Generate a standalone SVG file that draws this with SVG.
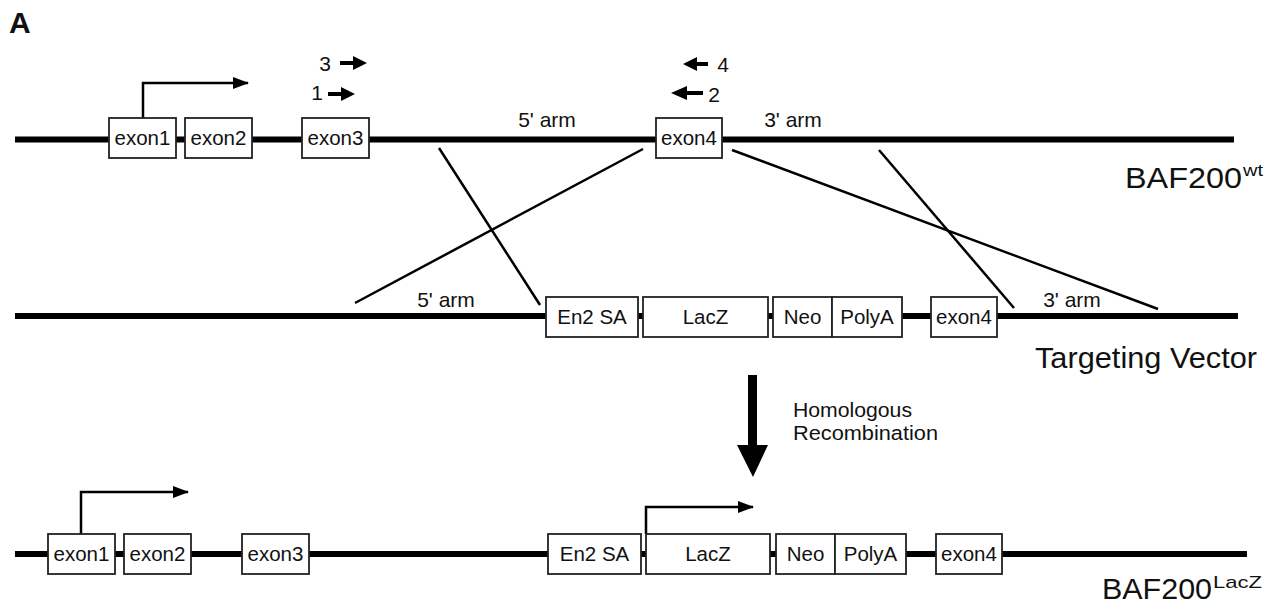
<svg xmlns="http://www.w3.org/2000/svg" width="1279" height="611" viewBox="0 0 1279 611">
<style>
text{font-family:"Liberation Sans",Arial,sans-serif;fill:#111}
.dna{stroke:#000;stroke-width:6;fill:none}
.box rect{fill:#fff;stroke:#222;stroke-width:1.8}
.box text{font-size:20.5px;text-anchor:middle}
.lbl{font-size:21px;text-anchor:middle}
.cross{stroke:#000;stroke-width:2.5;fill:none}
.tss{stroke:#000;stroke-width:2.5;fill:none}
.big{font-size:30px}
</style>
<defs>
<marker id="tip" markerWidth="16" markerHeight="12" refX="15" refY="6" orient="auto" markerUnits="userSpaceOnUse">
<path d="M0,0 L16,6 L0,12 Z" fill="#000"/>
</marker>
</defs>
<text x="9" y="33" font-size="30" font-weight="bold">A</text>

<g id="lines">
<line class="dna" x1="15" y1="139.5" x2="1234" y2="139.5"/>
<line class="dna" x1="15" y1="316" x2="1238" y2="316"/>
<line class="dna" x1="15" y1="554" x2="1247" y2="554"/>
</g>

<g id="connectors">
<line class="cross" x1="439" y1="148" x2="540" y2="305"/>
<line class="cross" x1="643" y1="149" x2="355" y2="303"/>
<line class="cross" x1="732" y1="150" x2="1158" y2="309"/>
<line class="cross" x1="879" y1="150" x2="1014" y2="308"/>
<path class="tss" d="M143,118 V83 H248" marker-end="url(#tip)"/>
<path class="tss" d="M81,534 V492 H188" marker-end="url(#tip)"/>
<path class="tss" d="M646,534 V507 H753" marker-end="url(#tip)"/>
<path d="M340,61 H353 V56 L367,63 L353,70 V65 H340 Z" fill="#000"/>
<path d="M328,92 H341 V87 L355,94 L341,101 V96 H328 Z" fill="#000"/>
<path d="M708,62 H697 V57 L683,64 L697,71 V66 H708 Z" fill="#000"/>
<path d="M703,91 H687 V86 L671,93 L687,100 V95 H703 Z" fill="#000"/>
<path d="M748,375 H757 V445 H768 L753,477 L737,445 H748 Z" fill="#000"/>
</g>

<g id="wt-labels">
<text class="lbl" x="325" y="71">3</text>
<text class="lbl" x="317" y="100">1</text>
<text class="lbl" x="723" y="72">4</text>
<text class="lbl" x="714" y="102">2</text>
<text class="lbl" x="547" y="127">5' arm</text>
<text class="lbl" x="793" y="127">3' arm</text>
<text class="lbl" x="446" y="307">5' arm</text>
<text class="lbl" x="1072" y="307">3' arm</text>
</g>

<g id="wt-exon1" class="box"><rect x="109" y="118" width="67" height="40"/><text x="142.5" y="145">exon1</text></g>
<g id="wt-exon2" class="box"><rect x="185" y="118" width="67" height="40"/><text x="218.5" y="145">exon2</text></g>
<g id="wt-exon3" class="box"><rect x="302" y="118" width="67" height="40"/><text x="335.5" y="145">exon3</text></g>
<g id="wt-exon4" class="box"><rect x="656" y="118" width="66" height="40"/><text x="689" y="145">exon4</text></g>
<text id="label-wt" class="big" x="1125" y="188"><tspan textLength="117" lengthAdjust="spacingAndGlyphs">BAF200</tspan><tspan font-size="17" dy="-12" x="1243" textLength="20" lengthAdjust="spacingAndGlyphs">wt</tspan></text>

<g id="tv-en2sa" class="box"><rect x="546" y="297" width="92" height="40"/><text x="592" y="324">En2 SA</text></g>
<g id="tv-lacz" class="box"><rect x="643" y="297" width="125" height="40"/><text x="705.5" y="324">LacZ</text></g>
<g id="tv-neo" class="box"><rect x="773" y="297" width="59" height="40"/><text x="802.5" y="324">Neo</text></g>
<g id="tv-polya" class="box"><rect x="832" y="297" width="70" height="40"/><text x="867" y="324">PolyA</text></g>
<g id="tv-exon4" class="box"><rect x="931" y="297" width="66" height="40"/><text x="964" y="324">exon4</text></g>
<text id="label-tv" class="big" x="1035" y="368" textLength="222" lengthAdjust="spacingAndGlyphs">Targeting Vector</text>

<g id="hr-label">
<text x="793" y="417" font-size="20.5" textLength="119" lengthAdjust="spacingAndGlyphs">Homologous</text>
<text x="793" y="440" font-size="20.5" textLength="145" lengthAdjust="spacingAndGlyphs">Recombination</text>
</g>

<g id="ko-exon1" class="box"><rect x="48" y="534" width="67" height="40"/><text x="81.5" y="561">exon1</text></g>
<g id="ko-exon2" class="box"><rect x="124" y="534" width="67" height="40"/><text x="157.5" y="561">exon2</text></g>
<g id="ko-exon3" class="box"><rect x="242" y="534" width="67" height="40"/><text x="275.5" y="561">exon3</text></g>
<g id="ko-en2sa" class="box"><rect x="548" y="534" width="93" height="40"/><text x="594.5" y="561">En2 SA</text></g>
<g id="ko-lacz" class="box"><rect x="646" y="534" width="124" height="40"/><text x="708" y="561">LacZ</text></g>
<g id="ko-neo" class="box"><rect x="776" y="534" width="59" height="40"/><text x="805.5" y="561">Neo</text></g>
<g id="ko-polya" class="box"><rect x="835" y="534" width="71" height="40"/><text x="870.5" y="561">PolyA</text></g>
<g id="ko-exon4" class="box"><rect x="936" y="534" width="66" height="40"/><text x="969" y="561">exon4</text></g>
<text id="label-ko" class="big" x="1102" y="599"><tspan textLength="110" lengthAdjust="spacingAndGlyphs">BAF200</tspan><tspan font-size="17" dy="-11" x="1213" textLength="49" lengthAdjust="spacingAndGlyphs">LacZ</tspan></text>
</svg>
